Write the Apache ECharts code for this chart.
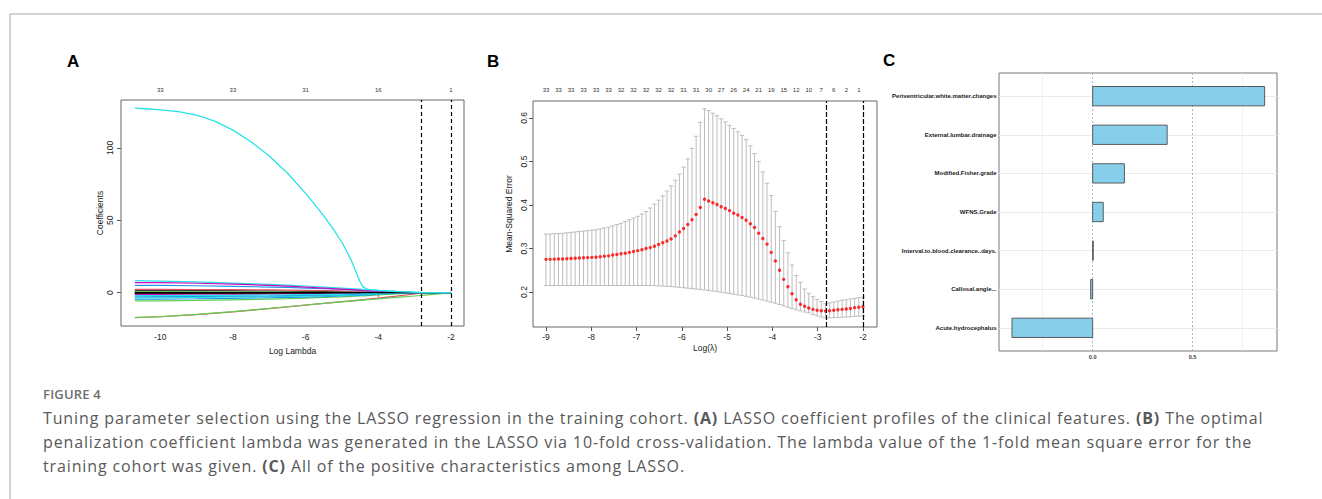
<!DOCTYPE html>
<html><head><meta charset="utf-8">
<script src="https://cdn.jsdelivr.net/npm/echarts@6/dist/echarts.min.js"></script>
<style>
html,body{margin:0;padding:0;background:#fff}
#wrap{position:relative;width:1322px;height:499px;overflow:hidden}
#c{position:absolute;left:0;top:0;width:1322px;height:499px}
#cap{position:absolute;left:43px;top:382px;font-family:"Open Sans",sans-serif;color:#595959;white-space:nowrap}
#cap .fig{font-size:13px;font-weight:600;color:#6e6e6e;line-height:24px;letter-spacing:0.2px}
#cap .ln{font-size:16px;line-height:24px;letter-spacing:0.87px}
#cap b{font-weight:700}
</style>
</head><body><div id="wrap"><div id="c"></div>
<div id="cap"><div class="fig">FIGURE 4</div><div class="ln">Tuning parameter selection using the LASSO regression in the training cohort. <b>(A)</b> LASSO coefficient profiles of the clinical features. <b>(B)</b> The optimal</div><div class="ln">penalization coefficient lambda was generated in the LASSO via 10-fold cross-validation. The lambda value of the 1-fold mean square error for the</div><div class="ln">training cohort was given. <b>(C)</b> All of the positive characteristics among LASSO.</div></div>
</div>
<script>
// ---------- Panel A: coefficient paths ----------
const logLambdaA = [-10.7,-10,-9,-8,-7,-6.5,-6,-5.5,-5,-4.75,-4.5,-4.4,-4.2,-4,-3.5,-3,-2.8,-2.4,-2];
const coefPaths = [
  [1.3,1.3,1.2,1.2,1.1,1.0,0.9,0.8,0.6,0.5,0.4,0.4,0.3,0.2,0,0,0,0,0],
  [2.3,2.3,2.2,2.1,1.9,1.8,1.6,1.4,1.2,1.0,0.9,0.8,0.6,0.4,0.1,0,0,0,0],
  [0.6,0.6,0.6,0.5,0.5,0.4,0.4,0.3,0.3,0.2,0.2,0.2,0.1,0.1,0,0,0,0,0],
  [5.1,5.0,4.8,4.4,3.9,3.6,3.2,2.7,2.2,1.9,1.6,1.4,1.1,0.8,0.3,0,0,0,0],
  [8.3,8.0,7.4,6.6,5.7,5.2,4.6,3.9,3.2,2.8,2.4,2.2,1.9,1.6,0.9,0.3,0,0,0],
  [7.0,6.9,6.5,5.9,5.0,4.5,3.9,3.2,2.5,2.1,1.7,1.5,1.2,0.9,0.4,0.1,0,0,0],
  [0.1,0.1,0.1,0.1,0.1,0.1,0.1,0,0,0,0,0,0,0,0,0,0,0,0],
  [-0.8,-0.8,-0.7,-0.7,-0.6,-0.5,-0.5,-0.4,-0.3,-0.3,-0.2,-0.2,-0.2,-0.1,0,0,0,0,0],
  [-5.7,-5.6,-5.3,-4.9,-4.4,-4.1,-3.7,-3.3,-2.9,-2.6,-2.3,-2.2,-1.9,-1.5,-0.8,-0.2,0,0,0],
  [-4.5,-4.4,-4.2,-3.9,-3.5,-3.3,-3.0,-2.7,-2.3,-2.1,-1.9,-1.7,-1.5,-1.1,-0.5,-0.1,0,0,0],
  [-3.6,-3.5,-3.3,-3.1,-2.8,-2.6,-2.4,-2.1,-1.8,-1.6,-1.4,-1.3,-1.1,-0.8,-0.3,0,0,0,0],
  [-1.2,-1.2,-1.1,-1.0,-0.9,-0.8,-0.7,-0.6,-0.5,-0.4,-0.3,-0.3,-0.2,-0.1,0,0,0,0,0],
  [-0.3,-0.3,-0.3,-0.3,-0.2,-0.2,-0.2,-0.2,-0.1,-0.1,-0.1,-0.1,0,0,0,0,0,0,0],
  [-17.3,-16.6,-15.1,-13.2,-11.0,-9.8,-8.6,-7.4,-6.2,-5.6,-5.0,-4.7,-4.2,-3.7,-2.4,-0.9,-0.2,0,0],
  [-17.1,-16.5,-15.0,-13.1,-10.9,-9.7,-8.5,-7.4,-6.3,-5.8,-5.3,-5.1,-4.7,-4.3,-3.3,-2.3,-1.9,-1.0,0],
  [-2.8,-2.7,-2.6,-2.4,-2.2,-2.0,-1.8,-1.6,-1.4,-1.2,-1.1,-1.0,-0.9,-0.6,-0.2,0,0,0,0],
  [-2.0,-2.0,-1.9,-1.8,-1.6,-1.5,-1.3,-1.2,-1.0,-0.9,-0.8,-0.7,-0.6,-0.4,-0.1,0,0,0,0],
  [0,0,0,0,0,0,0,0,0,0,0,0,0,0,0,0,0,0,0]
];
const pathColors = ['#000000','#DF536B','#61D04F','#2297E6','#28E2E5','#CD0BBC','#000000','#DF536B','#61D04F','#2297E6','#28E2E5','#CD0BBC','#000000','#DF536B','#61D04F','#2297E6','#28E2E5','#000000'];
// the dominant coefficient path, sampled more densely
const logLambdaMain = [-10.7,-10.3,-10,-9.5,-9,-8.5,-8,-7.5,-7,-6.5,-6,-5.75,-5.5,-5.25,-5,-4.75,-4.5,-4.42,-4.3,-4.2,-4,-3.5,-3,-2.8,-2.4,-2];
const coefMain = [127.4,126.8,126.2,125.0,122.6,118.4,112.2,104.2,94.4,82.6,68.5,61.0,53.0,44.4,34.8,22.8,7.5,3.8,2.5,2.0,1.5,0.8,0.3,0.1,0,0];
const mainColor = '#28E2E5';
const topTicksA = [-10,-8,-6,-4,-2];
const topLabelsA = ['33','33','31','16','1'];
const xTicksA = [-10,-8,-6,-4,-2];
const yTicksA = [0,50,100];
const lambdaLinesA = [-2.82,-2.0];

// ---------- Panel B: cross-validation ----------
const logLambdaB = [-9.000,-8.908,-8.816,-8.724,-8.632,-8.539,-8.447,-8.355,-8.263,-8.171,-8.079,-7.987,-7.895,-7.803,-7.711,-7.618,-7.526,-7.434,-7.342,-7.250,-7.158,-7.066,-6.974,-6.882,-6.790,-6.697,-6.605,-6.513,-6.421,-6.329,-6.237,-6.145,-6.053,-5.961,-5.868,-5.776,-5.684,-5.592,-5.500,-5.408,-5.316,-5.224,-5.132,-5.039,-4.947,-4.855,-4.763,-4.671,-4.579,-4.487,-4.395,-4.303,-4.211,-4.118,-4.026,-3.934,-3.842,-3.750,-3.658,-3.566,-3.474,-3.382,-3.289,-3.197,-3.105,-3.013,-2.921,-2.829,-2.737,-2.645,-2.553,-2.461,-2.368,-2.276,-2.184,-2.092,-2.000];
const mseMean = [0.275,0.275,0.2755,0.276,0.276,0.2765,0.277,0.2775,0.278,0.2785,0.279,0.2795,0.280,0.281,0.282,0.283,0.285,0.286,0.288,0.289,0.291,0.293,0.295,0.297,0.300,0.302,0.305,0.309,0.313,0.317,0.322,0.329,0.338,0.346,0.355,0.366,0.378,0.394,0.413,0.409,0.405,0.401,0.396,0.392,0.387,0.381,0.377,0.371,0.365,0.357,0.348,0.335,0.323,0.310,0.291,0.271,0.250,0.229,0.212,0.196,0.182,0.172,0.167,0.163,0.160,0.158,0.157,0.156,0.157,0.158,0.159,0.160,0.161,0.162,0.164,0.165,0.166];
const mseUpper = [0.333,0.3333,0.334,0.3345,0.335,0.336,0.337,0.338,0.339,0.340,0.341,0.342,0.343,0.345,0.347,0.349,0.352,0.355,0.358,0.362,0.366,0.370,0.374,0.379,0.385,0.393,0.402,0.411,0.421,0.432,0.444,0.457,0.471,0.487,0.506,0.530,0.558,0.590,0.621,0.617,0.611,0.605,0.598,0.591,0.583,0.576,0.568,0.560,0.550,0.536,0.518,0.500,0.476,0.450,0.422,0.385,0.350,0.318,0.290,0.262,0.238,0.222,0.207,0.197,0.189,0.183,0.178,0.173,0.175,0.177,0.179,0.181,0.182,0.184,0.185,0.187,0.188];
const mseLower = [0.2146,0.2148,0.2149,0.215,0.215,0.215,0.215,0.215,0.215,0.215,0.215,0.215,0.215,0.215,0.215,0.215,0.215,0.215,0.215,0.215,0.215,0.215,0.215,0.215,0.215,0.2148,0.2145,0.214,0.2135,0.213,0.2123,0.2115,0.2107,0.2098,0.2088,0.2078,0.2068,0.2058,0.2048,0.2035,0.2022,0.2008,0.1994,0.198,0.1965,0.195,0.1934,0.1917,0.19,0.188,0.186,0.184,0.1815,0.179,0.1765,0.174,0.1712,0.168,0.165,0.162,0.159,0.1565,0.154,0.152,0.148,0.145,0.1425,0.140,0.1405,0.141,0.1415,0.142,0.1425,0.143,0.1437,0.1443,0.145];
const dfLabelsB = ['33','33','33','33','33','33','32','32','32','32','32','31','31','30','27','26','24','21','19','15','12','10','7','6','2','1'];
const xTicksB = [-9,-8,-7,-6,-5,-4,-3,-2];
const yTicksB = [0.2,0.3,0.4,0.5,0.6];
const lambdaLinesB = [-2.82,-2.0];

// ---------- Panel C: selected coefficients ----------
const featuresC = ['Acute.hydrocephalus','Callosal.angle...','Interval.to.blood.clearance..days.','WFNS.Grade','Modified.Fisher.grade','External.lumbar.drainage','Periventricular.white.matter.changes'];
const coefC = [-0.404,-0.010,0.002,0.053,0.159,0.373,0.861];
const xTicksC = [0,0.5];
const minorTicksC = [-0.25,0.75];

// ---------- helpers ----------
const AX = 'Liberation Sans, Arial, sans-serif';
const topPosB = logLambdaB.filter((_, i) => i % 3 === 0);

const series = [];
coefPaths.forEach((p, k) => {
  series.push({
    type: 'line', xAxisIndex: 0, yAxisIndex: 0, silent: true, animation: false,
    showSymbol: false, symbol: 'none', z: 2,
    data: logLambdaA.map((x, j) => [x, p[j]]),
    lineStyle: { color: pathColors[k], width: 1.2 }
  });
});
series.push({
  type: 'line', xAxisIndex: 0, yAxisIndex: 0, silent: true, animation: false,
  showSymbol: false, symbol: 'none', z: 2,
  data: logLambdaMain.map((x, j) => [x, coefMain[j]]),
  lineStyle: { color: mainColor, width: 1.3 }
});
series.push({
  type: 'line', xAxisIndex: 0, yAxisIndex: 0, silent: true, animation: false, symbol: 'none', z: 3,
  data: [], lineStyle: { opacity: 0 },
  markLine: { silent: true, symbol: 'none', animation: false, label: { show: false },
    lineStyle: { color: '#000', type: [4, 3], width: 1.2 },
    data: lambdaLinesA.map(v => ({ xAxis: v })) }
});
// B error bars
series.push({
  type: 'custom', xAxisIndex: 2, yAxisIndex: 1, silent: true, animation: false, z: 2,
  data: logLambdaB.map((x, i) => [x, mseLower[i], mseUpper[i]]),
  encode: { x: 0, y: [1, 2] },
  renderItem: function (params, api) {
    const x = api.value(0), lo = api.value(1), hi = api.value(2);
    const a = api.coord([x, lo]), b = api.coord([x, hi]);
    const hw = 2.2;
    const st = { stroke: '#bdbdbd', lineWidth: 1, fill: null };
    return { type: 'group', children: [
      { type: 'line', shape: { x1: a[0], y1: a[1], x2: b[0], y2: b[1] }, style: st },
      { type: 'line', shape: { x1: a[0] - hw, y1: a[1], x2: a[0] + hw, y2: a[1] }, style: st },
      { type: 'line', shape: { x1: b[0] - hw, y1: b[1], x2: b[0] + hw, y2: b[1] }, style: st }
    ]};
  }
});
series.push({
  type: 'scatter', xAxisIndex: 2, yAxisIndex: 1, silent: true, animation: false, z: 3,
  symbol: 'circle', symbolSize: 3.4,
  itemStyle: { color: '#ff0000' },
  data: logLambdaB.map((x, i) => [x, mseMean[i]]),
  markLine: { silent: true, symbol: 'none', animation: false, label: { show: false },
    lineStyle: { color: '#000', type: [5, 2], width: 1.2 },
    data: lambdaLinesB.map(v => ({ xAxis: v })) }
});
// C grid lines
series.push({
  type: 'line', xAxisIndex: 4, yAxisIndex: 2, silent: true, animation: false, symbol: 'none', z: 1,
  data: [], lineStyle: { opacity: 0 },
  markLine: { silent: true, symbol: 'none', animation: false, label: { show: false }, z: 1,
    data: featuresC.map((_, i) => ({ yAxis: i, lineStyle: { color: '#ebebeb', width: 1, type: 'solid' } }))
      .concat(minorTicksC.map(v => ({ xAxis: v, lineStyle: { color: '#ececec', width: 0.8, type: 'solid' } })))
      .concat(xTicksC.map(v => ({ xAxis: v, lineStyle: { color: '#9fb9d0', width: 1, type: [2, 2] } })))
  }
});
series.push({
  type: 'custom', xAxisIndex: 4, yAxisIndex: 2, silent: true, animation: false, z: 10,
  data: coefC.map((v, i) => [v, i]),
  encode: { x: 0, y: 1 },
  renderItem: function (params, api) {
    const v = api.value(0), i = api.value(1);
    const p0 = api.coord([0, i + 0.25]), p1 = api.coord([v, i - 0.25]);
    const x = Math.min(p0[0], p1[0]), w = Math.max(Math.abs(p1[0] - p0[0]), 0.6);
    return { type: 'rect', shape: { x: x, y: p0[1], width: w, height: p1[1] - p0[1] },
      style: { fill: '#87CEEB', stroke: '#4d4d4d', lineWidth: 0.9 } };
  }
});

const hid = { show: false };
const option = {
  animation: false,
  grid: [
    { left: 121, top: 100, width: 343, height: 226, show: true, borderColor: '#666', borderWidth: 1, backgroundColor: 'transparent' },
    { left: 533, top: 101, width: 344, height: 226, show: true, borderColor: '#666', borderWidth: 1, backgroundColor: 'transparent' },
    { left: 999, top: 73, width: 278, height: 278, show: true, borderColor: '#777', borderWidth: 1, backgroundColor: 'transparent' }
  ],
  xAxis: [
    { gridIndex: 0, type: 'value', min: -11.08, max: -1.64, axisLine: hid, splitLine: hid,
      axisTick: { show: true, customValues: xTicksA, length: 4, lineStyle: { color: '#555' } },
      axisLabel: { customValues: xTicksA, fontSize: 8.5, fontFamily: AX, color: '#222', margin: 6 },
      name: 'Log Lambda', nameLocation: 'middle', nameGap: 20, nameTextStyle: { fontSize: 8.5, fontFamily: AX, color: '#222' } },
    { gridIndex: 0, type: 'value', position: 'top', min: -11.08, max: -1.64, axisLine: hid, splitLine: hid, axisTick: hid,
      axisLabel: { customValues: topTicksA, fontSize: 6, fontFamily: AX, color: '#333', margin: 7,
        formatter: v => topLabelsA[topTicksA.indexOf(v)] } },
    { gridIndex: 1, type: 'value', min: -9.287, max: -1.69, axisLine: hid, splitLine: hid,
      axisTick: { show: true, customValues: xTicksB, length: 4, lineStyle: { color: '#555' } },
      axisLabel: { customValues: xTicksB, fontSize: 8.5, fontFamily: AX, color: '#222', margin: 5 },
      name: 'Log(λ)', nameLocation: 'middle', nameGap: 16, nameTextStyle: { fontSize: 8.5, fontFamily: AX, color: '#222' } },
    { gridIndex: 1, type: 'value', position: 'top', min: -9.287, max: -1.69, axisLine: hid, splitLine: hid, axisTick: hid,
      axisLabel: { customValues: topPosB, fontSize: 6, fontFamily: AX, color: '#333', margin: 8,
        formatter: v => { const k = topPosB.findIndex(p => Math.abs(p - v) < 1e-6); return k >= 0 ? dfLabelsB[k] : ''; } } },
    { gridIndex: 2, type: 'value', min: -0.469, max: 0.923, axisLine: hid, splitLine: hid,
      axisTick: { show: true, customValues: xTicksC, length: 2, lineStyle: { color: '#444' } },
      axisLabel: { customValues: xTicksC, fontSize: 5.5, fontWeight: 'bold', fontFamily: AX, color: '#333', margin: 2.5,
        formatter: v => v.toFixed(1) } }
  ],
  yAxis: [
    { gridIndex: 0, type: 'value', min: -23, max: 133, axisLine: hid, splitLine: hid,
      axisTick: { show: true, customValues: yTicksA, length: 4, lineStyle: { color: '#555' } },
      axisLabel: { customValues: yTicksA, rotate: 90, fontSize: 8.5, fontFamily: AX, color: '#222', margin: 7 },
      name: 'Coefficients', nameLocation: 'middle', nameGap: 17, nameTextStyle: { fontSize: 8.5, fontFamily: AX, color: '#222' } },
    { gridIndex: 1, type: 'value', min: 0.1195, max: 0.639, axisLine: hid, splitLine: hid,
      axisTick: { show: true, customValues: yTicksB, length: 4, lineStyle: { color: '#555' } },
      axisLabel: { customValues: yTicksB, rotate: 90, fontSize: 8.5, fontFamily: AX, color: '#222', margin: 5,
        formatter: v => v.toFixed(1) },
      name: 'Mean-Squared Error', nameLocation: 'middle', nameGap: 20, nameTextStyle: { fontSize: 8.5, fontFamily: AX, color: '#222' } },
    { gridIndex: 2, type: 'value', min: -0.6, max: 6.6, axisLine: hid, splitLine: hid,
      axisTick: { show: true, customValues: [0,1,2,3,4,5,6], length: 2, lineStyle: { color: '#444' } },
      axisLabel: { customValues: [0,1,2,3,4,5,6], fontSize: 6, fontWeight: 'bold', fontFamily: AX, color: '#1a1a1a', margin: 2.5,
        formatter: v => featuresC[Math.round(v)] } }
  ],
  series: series,
  graphic: [
    { type: 'line', shape: { x1: 10, y1: 14, x2: 1322, y2: 14 }, style: { stroke: '#c4c4c4', lineWidth: 1.5 }, silent: true },
    { type: 'line', shape: { x1: 10, y1: 14, x2: 10, y2: 499 }, style: { stroke: '#c4c4c4', lineWidth: 1.5 }, silent: true },
    { type: 'text', left: 67, top: 53, style: { text: 'A', font: 'bold 17px ' + AX, fill: '#000' } },
    { type: 'text', left: 487, top: 53, style: { text: 'B', font: 'bold 17px ' + AX, fill: '#000' } },
    { type: 'text', left: 883, top: 52, style: { text: 'C', font: 'bold 17px ' + AX, fill: '#000' } }
  ]
};
const chart = echarts.init(document.getElementById('c'), null, { renderer: 'svg', width: 1322, height: 499 });
chart.setOption(option);
</script></body></html>
